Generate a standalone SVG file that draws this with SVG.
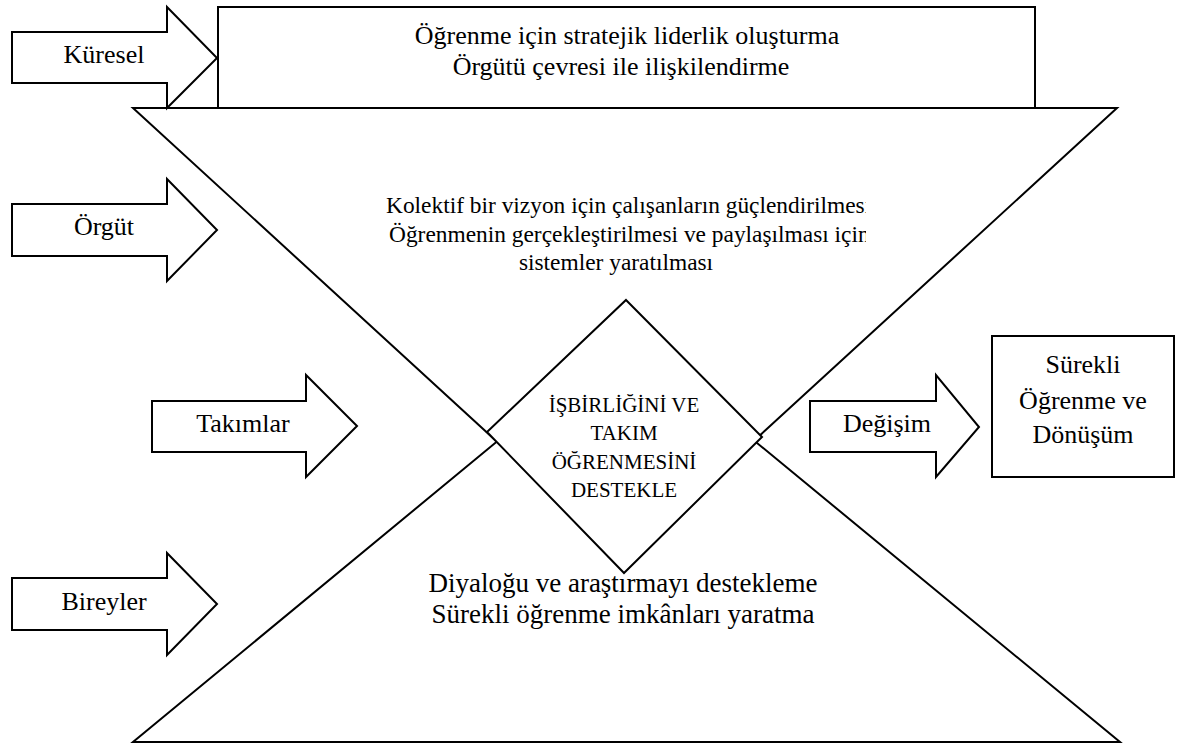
<svg xmlns="http://www.w3.org/2000/svg" width="1183" height="747" viewBox="0 0 1183 747" font-family="'Liberation Serif', 'DejaVu Serif', serif">
  <style>
    .shape { fill: none; stroke: #000; stroke-width: 2; stroke-linejoin: miter; }
    .box { fill: #fff; stroke: #000; stroke-width: 2; }
    text { font-family: 'Liberation Serif', 'DejaVu Serif', serif; fill: #000; }
    .lbl { font-size: 26px; text-anchor: middle; }
    .mid { font-size: 23.4px; }
    .dia { font-size: 21px; text-anchor: middle; }
    .low { font-size: 27px; text-anchor: middle; }
  </style>
  <defs>
    <clipPath id="midClip">
      <rect x="0" y="150" width="866" height="150"/>
    </clipPath>
  </defs>

  <!-- hourglass: upright lower triangle and inverted upper triangle;
       both apexes sit under the diamond -->
  <g id="lower-triangle">
    <polygon class="shape" points="133,742 1120,742 626,335"/>
    <text class="low" x="623" y="592">Diyaloğu ve araştırmayı destekleme</text>
    <text class="low" x="623" y="623">Sürekli öğrenme imkânları yaratma</text>
  </g>
  <g id="upper-triangle">
    <polygon class="shape" points="133,108 1117,108 625,559"/>
    <g clip-path="url(#midClip)">
      <text class="mid" x="386" y="213">Kolektif bir vizyon için çalışanların güçlendirilmesi</text>
      <text class="mid" x="389" y="242">Öğrenmenin gerçekleştirilmesi ve paylaşılması için</text>
    </g>
    <text class="mid" x="616" y="270" text-anchor="middle">sistemler yaratılması</text>
  </g>

  <!-- top banner -->
  <g id="strategy-box">
    <rect class="box" x="218" y="7" width="817" height="101"/>
    <text class="lbl" x="627" y="44">Öğrenme için stratejik liderlik oluşturma</text>
    <text class="lbl" x="621" y="75">Örgütü çevresi ile ilişkilendirme</text>
  </g>

  <!-- centre diamond -->
  <g id="team-learning">
    <polygon class="box" points="626,300 762,437 624,573 487,432"/>
    <text class="dia" x="624" y="412">İŞBİRLİĞİNİ VE</text>
    <text class="dia" x="624" y="440">TAKIM</text>
    <text class="dia" x="624" y="469">ÖĞRENMESİNİ</text>
    <text class="dia" x="624" y="497">DESTEKLE</text>
  </g>

  <!-- outcome box -->
  <g id="outcome">
    <rect class="box" x="992" y="336" width="182" height="141"/>
    <text class="lbl" x="1083" y="373">Sürekli</text>
    <text class="lbl" x="1083" y="409">Öğrenme ve</text>
    <text class="lbl" x="1083" y="443">Dönüşüm</text>
  </g>

  <!-- level arrows -->
  <g id="connectors">
    <g id="arrow-kuresel">
      <path class="box" d="M12,32 H167 V7 L217,58 L167,108 V83 H12 Z"/>
      <text class="lbl" x="104" y="63">Küresel</text>
    </g>
    <g id="arrow-orgut">
      <path class="box" d="M12,204 H167 V179 L217,230 L167,281 V256 H12 Z"/>
      <text class="lbl" x="104" y="235">Örgüt</text>
    </g>
    <g id="arrow-takimlar">
      <path class="box" d="M152,401 H306 V375 L357,426 L306,477 V452 H152 Z"/>
      <text class="lbl" x="243" y="432">Takımlar</text>
    </g>
    <g id="arrow-bireyler">
      <path class="box" d="M12,578 H167 V553 L217,604 L167,655 V630 H12 Z"/>
      <text class="lbl" x="104" y="610">Bireyler</text>
    </g>
    <g id="arrow-degisim">
      <path class="box" d="M810,401 H936 V375 L979,427 L936,477 V452 H810 Z"/>
      <text class="lbl" x="887" y="432">Değişim</text>
    </g>
  </g>
</svg>
